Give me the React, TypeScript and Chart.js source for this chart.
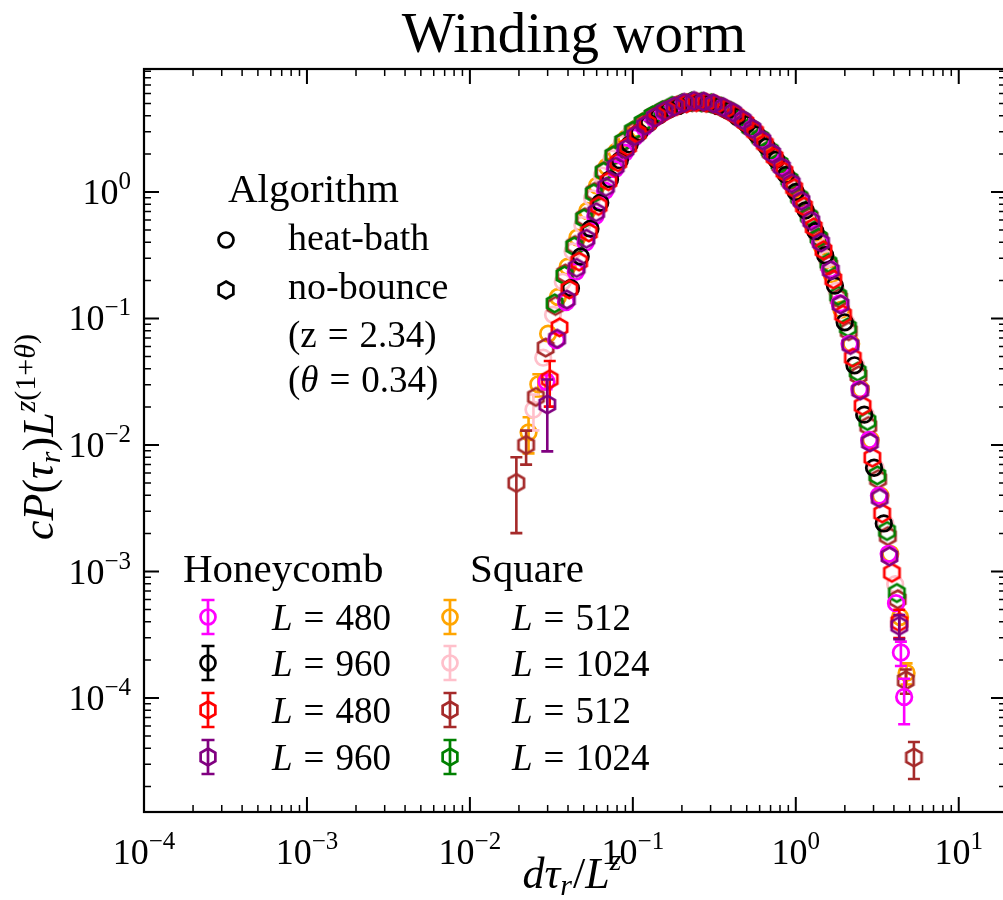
import React, { useEffect, useRef } from 'react';
import { Chart, registerables } from 'chart.js';

Chart.register(...registerables);

const FONT = '"Liberation Serif", "DejaVu Serif", serif';

// Axis ranges (log scales)
const X_MIN = 1e-4;
const X_MAX = 19.5;
const Y_MIN = 1.256e-5;
const Y_MAX = 9.38;

const xMajorTicks = [1e-4, 1e-3, 1e-2, 1e-1, 1, 10];
const xTickExponents = ['\u22124', '\u22123', '\u22122', '\u22121', '0', '1'];
const yMajorTicks = [1e-4, 1e-3, 1e-2, 1e-1, 1];
const yTickExponents = ['\u22124', '\u22123', '\u22122', '\u22121', '0'];

// Honeycomb, heat-bath, L = 480
const magentaX = [0.02951, 0.03388, 0.0389, 0.04467, 0.05129, 0.05888, 0.06761, 0.07762, 0.08913, 0.1023, 0.1175, 0.1349, 0.1549, 0.1778, 0.2042, 0.2344, 0.2692, 0.309, 0.3548, 0.4074, 0.4677, 0.537, 0.6166, 0.7079, 0.8128, 0.9333, 1.072, 1.23, 1.413, 1.622, 1.862, 2.138, 2.455, 2.818, 3.236, 3.715, 4.121, 4.416, 4.624];
const magentaY = [0.0316, 0.0676, 0.1349, 0.2344, 0.3981, 0.6457, 1.023, 1.514, 2.042, 2.692, 3.236, 3.802, 4.266, 4.677, 5.012, 5.188, 5.129, 5.012, 4.677, 4.266, 3.715, 3.162, 2.57, 2.042, 1.585, 1.175, 0.8511, 0.6026, 0.3981, 0.2455, 0.1318, 0.0631, 0.02754, 0.01096, 0.003981, 0.00138, 0.000562, 0.000229, 0.000102];
const magentaErr: [number, number][] = [[0, 0.004], [37, 0.00005], [38, 0.00004]];

// Honeycomb, heat-bath, L = 960
const blackX = [0.04169, 0.04786, 0.05495, 0.0631, 0.07244, 0.08318, 0.0955, 0.1096, 0.1259, 0.1445, 0.166, 0.1905, 0.2188, 0.2512, 0.2884, 0.3311, 0.3802, 0.4365, 0.5012, 0.5754, 0.6607, 0.7586, 0.871, 1.0, 1.148, 1.318, 1.514, 1.738, 1.995, 2.291, 2.63, 3.02, 3.467];
const blackY = [0.1738, 0.309, 0.5129, 0.8222, 1.259, 1.778, 2.371, 2.951, 3.508, 4.027, 4.467, 4.786, 5.07, 5.129, 5.012, 4.786, 4.416, 3.936, 3.428, 2.851, 2.291, 1.799, 1.365, 1.0, 0.7161, 0.4898, 0.3162, 0.182, 0.0933, 0.04266, 0.01738, 0.006607, 0.002399];
const blackErr: [number, number][] = [];

// Honeycomb, no-bounce, L = 480
const redX = [0.0309, 0.03548, 0.04074, 0.04677, 0.0537, 0.06166, 0.07079, 0.08128, 0.09333, 0.1072, 0.123, 0.1413, 0.1622, 0.1862, 0.2138, 0.2455, 0.2818, 0.3236, 0.3715, 0.4266, 0.4898, 0.5623, 0.6457, 0.7413, 0.8511, 0.9772, 1.122, 1.288, 1.479, 1.698, 1.95, 2.239, 2.57, 2.951, 3.388, 3.89, 4.315];
const redY = [0.0331, 0.0851, 0.1698, 0.2818, 0.4786, 0.7762, 1.216, 1.718, 2.291, 2.917, 3.467, 3.981, 4.416, 4.786, 5.012, 5.129, 5.07, 4.898, 4.519, 4.074, 3.548, 2.985, 2.399, 1.884, 1.445, 1.072, 0.7674, 0.5248, 0.3467, 0.2042, 0.1072, 0.049, 0.02042, 0.007943, 0.002884, 0.000977, 0.000398];
const redErr: [number, number][] = [[0, 0.013], [36, 0.0001]];

// Honeycomb, no-bounce, L = 960
const purpleX = [0.02985, 0.03428, 0.03936, 0.04519, 0.05188, 0.05957, 0.06839, 0.07852, 0.09016, 0.1035, 0.1189, 0.1365, 0.1567, 0.1799, 0.2065, 0.2371, 0.2723, 0.3126, 0.3589, 0.4121, 0.4732, 0.5433, 0.6237, 0.7161, 0.8222, 0.9441, 1.084, 1.245, 1.429, 1.641, 1.884, 2.163, 2.483, 2.851, 3.273, 3.758, 4.315];
const purpleY = [0.0209, 0.0692, 0.1413, 0.2512, 0.4266, 0.6918, 1.096, 1.585, 2.163, 2.786, 3.35, 3.89, 4.365, 4.732, 5.07, 5.248, 5.188, 5.012, 4.677, 4.266, 3.715, 3.162, 2.57, 2.018, 1.567, 1.175, 0.8511, 0.5888, 0.3981, 0.2399, 0.1288, 0.0617, 0.02692, 0.01047, 0.003802, 0.001318, 0.000372];
const purpleErr: [number, number][] = [[0, 0.012], [36, 0.00008]];

// Square, heat-bath, L = 512
const orangeX = [0.02291, 0.0263, 0.0302, 0.03467, 0.03981, 0.04571, 0.05248, 0.06026, 0.06918, 0.07943, 0.0912, 0.1047, 0.1202, 0.138, 0.1585, 0.182, 0.2089, 0.2399, 0.2754, 0.3162, 0.3631, 0.4169, 0.4786, 0.5495, 0.631, 0.7244, 0.8318, 0.955, 1.096, 1.259, 1.445, 1.66, 1.905, 2.188, 2.512, 2.884, 3.311, 3.802, 4.365, 4.786];
const orangeY = [0.01259, 0.0302, 0.07586, 0.1479, 0.257, 0.4365, 0.7079, 1.122, 1.585, 2.089, 2.661, 3.162, 3.673, 4.121, 4.519, 4.842, 5.07, 5.152, 5.105, 4.955, 4.571, 4.169, 3.589, 3.055, 2.512, 1.95, 1.514, 1.122, 0.8128, 0.5623, 0.3715, 0.2239, 0.1175, 0.0631, 0.02754, 0.01096, 0.003981, 0.00138, 0.000437, 0.000158];
const orangeErr: [number, number][] = [[0, 0.004], [1, 0.006], [39, 0.00003]];

// Square, heat-bath, L = 1024
const pinkX = [0.02455, 0.02818, 0.03236, 0.03715, 0.04266, 0.04898, 0.05623, 0.06457, 0.07413, 0.08511, 0.09772, 0.1122, 0.1288, 0.1479, 0.1698, 0.195, 0.2239, 0.257, 0.2951, 0.3388, 0.389, 0.4467, 0.5129, 0.5888, 0.6761, 0.7762, 0.8913, 1.023, 1.175, 1.349, 1.549, 1.778, 2.042, 2.344, 2.692, 3.09, 3.548, 4.074];
const pinkY = [0.01905, 0.049, 0.1072, 0.195, 0.3388, 0.5495, 0.8913, 1.349, 1.841, 2.399, 2.951, 3.467, 3.981, 4.365, 4.732, 5.012, 5.188, 5.188, 5.07, 4.786, 4.416, 3.89, 3.35, 2.754, 2.213, 1.738, 1.318, 0.955, 0.6761, 0.4571, 0.2951, 0.166, 0.0933, 0.04266, 0.01738, 0.006607, 0.002399, 0.000794];
const pinkErr: [number, number][] = [[0, 0.006]];

// Square, no-bounce, L = 512
const brownX = [0.01928, 0.02213, 0.02541, 0.02917, 0.0335, 0.03846, 0.04416, 0.0507, 0.05821, 0.06683, 0.07674, 0.0881, 0.1012, 0.1161, 0.1334, 0.1531, 0.1758, 0.2018, 0.2317, 0.2661, 0.3055, 0.3508, 0.4027, 0.4624, 0.5309, 0.6095, 0.6998, 0.8035, 0.9226, 1.059, 1.216, 1.396, 1.603, 1.841, 2.113, 2.427, 2.786, 3.199, 3.673, 4.217, 4.732, 5.309];
const brownY = [0.005012, 0.01, 0.02399, 0.0589, 0.1259, 0.2265, 0.3802, 0.631, 1.0, 1.462, 1.95, 2.512, 3.02, 3.508, 3.981, 4.416, 4.732, 5.012, 5.129, 5.129, 5.012, 4.677, 4.266, 3.758, 3.199, 2.63, 2.065, 1.622, 1.216, 0.8913, 0.631, 0.4266, 0.263, 0.1445, 0.0794, 0.03548, 0.01413, 0.00537, 0.001905, 0.000603, 0.000138, 0.0000339];
const brownErr: [number, number][] = [[0, 0.003], [1, 0.003], [40, 0.00003], [41, 0.000011]];

// Square, no-bounce, L = 1024
const greenX = [0.03311, 0.03802, 0.04365, 0.05012, 0.05754, 0.06607, 0.07586, 0.0871, 0.1, 0.1148, 0.1318, 0.1514, 0.1738, 0.1995, 0.2291, 0.263, 0.302, 0.3467, 0.3981, 0.4571, 0.5248, 0.6026, 0.6918, 0.7943, 0.912, 1.047, 1.202, 1.38, 1.585, 1.82, 2.089, 2.399, 2.754, 3.162, 3.631, 4.169];
const greenY = [0.1318, 0.2188, 0.3715, 0.6166, 0.9772, 1.445, 1.95, 2.512, 3.055, 3.548, 4.027, 4.416, 4.786, 5.012, 5.188, 5.129, 5.012, 4.732, 4.365, 3.802, 3.236, 2.692, 2.138, 1.679, 1.259, 0.912, 0.6457, 0.4365, 0.2754, 0.1514, 0.0851, 0.038, 0.01549, 0.005754, 0.002089, 0.000676];
const greenErr: [number, number][] = [];

const honeycombValues = ['480', '960', '480', '960'];
const squareValues = ['512', '1024', '512', '1024'];
const honeycombColors = ['#ff00ff', '#000000', '#ff0000', '#800080'];
const squareColors = ['#ffa500', '#ffc0cb', '#a52a2a', '#008000'];

type Series = { label: string; color: string; hex: boolean; x: number[]; y: number[]; err: [number, number][] };

// first entry is drawn on top
const seriesList: Series[] = [
  { label: 'Honeycomb no-bounce L = 960', color: '#800080', hex: true, x: purpleX, y: purpleY, err: purpleErr },
  { label: 'Honeycomb no-bounce L = 480', color: '#ff0000', hex: true, x: redX, y: redY, err: redErr },
  { label: 'Honeycomb heat-bath L = 960', color: '#000000', hex: false, x: blackX, y: blackY, err: blackErr },
  { label: 'Honeycomb heat-bath L = 480', color: '#ff00ff', hex: false, x: magentaX, y: magentaY, err: magentaErr },
  { label: 'Square no-bounce L = 1024', color: '#008000', hex: true, x: greenX, y: greenY, err: greenErr },
  { label: 'Square no-bounce L = 512', color: '#a52a2a', hex: true, x: brownX, y: brownY, err: brownErr },
  { label: 'Square heat-bath L = 1024', color: '#ffc0cb', hex: false, x: pinkX, y: pinkY, err: pinkErr },
  { label: 'Square heat-bath L = 512', color: '#ffa500', hex: false, x: orangeX, y: orangeY, err: orangeErr },
];

type Run = { t: string; it?: boolean; s: number; dy?: number; pad?: number };
const fontOf = (r: Run) => `${r.it ? 'italic ' : ''}${r.s}px ${FONT}`;

function runsWidth(ctx: CanvasRenderingContext2D, runs: Run[]) {
  let w = 0;
  for (const r of runs) {
    ctx.font = fontOf(r);
    w += (r.pad || 0) + ctx.measureText(r.t).width;
  }
  return w;
}

function drawRuns(ctx: CanvasRenderingContext2D, runs: Run[], x: number, y: number, align: 'left' | 'center' | 'right') {
  const w = runsWidth(ctx, runs);
  let cx = align === 'left' ? x : align === 'center' ? x - w / 2 : x - w;
  ctx.textAlign = 'left';
  ctx.textBaseline = 'alphabetic';
  for (const r of runs) {
    cx += r.pad || 0;
    ctx.font = fontOf(r);
    ctx.fillText(r.t, cx, y + (r.dy || 0));
    cx += ctx.measureText(r.t).width;
  }
}

function hexPath(ctx: CanvasRenderingContext2D, cx: number, cy: number, r: number) {
  ctx.beginPath();
  for (let k = 0; k < 6; k++) {
    const a = -Math.PI / 2 + (k * Math.PI) / 3;
    const px = cx + r * Math.cos(a);
    const py = cy + r * Math.sin(a);
    if (k === 0) ctx.moveTo(px, py);
    else ctx.lineTo(px, py);
  }
  ctx.closePath();
}

function hexImage(color: string, r: number, lw: number) {
  const c = document.createElement('canvas');
  const size = Math.ceil(2 * (r + lw)) + 2;
  c.width = size;
  c.height = size;
  const ctx = c.getContext('2d')!;
  ctx.strokeStyle = color;
  ctx.lineWidth = lw;
  hexPath(ctx, size / 2, size / 2, r);
  ctx.stroke();
  return c;
}

function minorTicks(lo: number, hi: number) {
  const out: number[] = [];
  for (let e = Math.floor(Math.log10(lo)); e <= Math.ceil(Math.log10(hi)); e++) {
    for (let m = 2; m <= 9; m++) {
      const v = m * Math.pow(10, e);
      if (v > lo && v < hi) out.push(v);
    }
  }
  return out;
}

function drawLegendMarker(ctx: CanvasRenderingContext2D, x: number, y: number, color: string, hex: boolean, errbar: boolean) {
  ctx.save();
  ctx.strokeStyle = color;
  ctx.lineWidth = 2.7;
  if (errbar) {
    ctx.beginPath();
    ctx.moveTo(x, y - 17);
    ctx.lineTo(x, y + 17);
    ctx.moveTo(x - 6.5, y - 17);
    ctx.lineTo(x + 6.5, y - 17);
    ctx.moveTo(x - 6.5, y + 17);
    ctx.lineTo(x + 6.5, y + 17);
    ctx.stroke();
  }
  if (hex) hexPath(ctx, x, y, 8.5);
  else {
    ctx.beginPath();
    ctx.arc(x, y, 7.5, 0, Math.PI * 2);
  }
  ctx.stroke();
  ctx.restore();
}

const errorBarPlugin = {
  id: 'errorBars',
  afterDatasetDraw(chart: any, args: any) {
    const s = seriesList[args.index];
    if (!s || !s.err.length) return;
    const ctx: CanvasRenderingContext2D = chart.ctx;
    const ys = chart.scales.y;
    ctx.save();
    ctx.strokeStyle = s.color;
    ctx.lineWidth = 2.6;
    for (const [i, e] of s.err) {
      const pt = args.meta.data[i];
      if (!pt) continue;
      const x = pt.x;
      const top = ys.getPixelForValue(s.y[i] + e);
      const bot = ys.getPixelForValue(Math.max(s.y[i] - e, Y_MIN));
      ctx.beginPath();
      ctx.moveTo(x, top);
      ctx.lineTo(x, bot);
      ctx.moveTo(x - 6, top);
      ctx.lineTo(x + 6, top);
      ctx.moveTo(x - 6, bot);
      ctx.lineTo(x + 6, bot);
      ctx.stroke();
    }
    ctx.restore();
  },
};

const framePlugin = {
  id: 'frame',
  afterDraw(chart: any) {
    const ctx: CanvasRenderingContext2D = chart.ctx;
    const { left, right, top, bottom } = chart.chartArea;
    const xs = chart.scales.x;
    const ys = chart.scales.y;
    ctx.save();
    ctx.fillStyle = '#000';
    ctx.strokeStyle = '#000';

    // spines
    ctx.lineWidth = 2.2;
    ctx.strokeRect(left, top, right - left, bottom - top);

    const MAJ = 15;
    const MIN = 7;
    const drawX = (v: number, len: number, lw: number) => {
      const px = xs.getPixelForValue(v);
      ctx.lineWidth = lw;
      ctx.beginPath();
      ctx.moveTo(px, bottom);
      ctx.lineTo(px, bottom - len);
      ctx.moveTo(px, top);
      ctx.lineTo(px, top + len);
      ctx.stroke();
    };
    const drawY = (v: number, len: number, lw: number) => {
      const py = ys.getPixelForValue(v);
      ctx.lineWidth = lw;
      ctx.beginPath();
      ctx.moveTo(left, py);
      ctx.lineTo(left + len, py);
      ctx.moveTo(right, py);
      ctx.lineTo(right - len, py);
      ctx.stroke();
    };
    xMajorTicks.forEach((v) => drawX(v, MAJ, 2));
    minorTicks(X_MIN, X_MAX).forEach((v) => drawX(v, MIN, 1.5));
    yMajorTicks.forEach((v) => drawY(v, MAJ, 2));
    minorTicks(Y_MIN, Y_MAX).forEach((v) => drawY(v, MIN, 1.5));

    // tick labels
    xMajorTicks.forEach((v, i) => {
      const px = xs.getPixelForValue(v);
      drawRuns(ctx, [{ t: '10', s: 36 }, { t: xTickExponents[i], s: 25, dy: -15 }], px, 864, 'center');
    });
    yMajorTicks.forEach((v, i) => {
      const py = ys.getPixelForValue(v);
      drawRuns(ctx, [{ t: '10', s: 36 }, { t: yTickExponents[i], s: 25, dy: -15 }], 131, py + 12, 'right');
    });

    // title
    drawRuns(ctx, [{ t: 'Winding worm', s: 57 }], 574, 52, 'center');

    // x axis label
    drawRuns(
      ctx,
      [
        { t: 'd', it: true, s: 44 },
        { t: '\u03c4', it: true, s: 44 },
        { t: 'r', it: true, s: 30, dy: 7 },
        { t: '/', s: 44, pad: 1 },
        { t: 'L', it: true, s: 44 },
        { t: 'z', it: true, s: 30, dy: -18 },
      ],
      572,
      888,
      'center'
    );

    // y axis label (rotated)
    ctx.save();
    ctx.translate(53, 437);
    ctx.rotate(-Math.PI / 2);
    drawRuns(
      ctx,
      [
        { t: 'c', it: true, s: 44 },
        { t: 'P', it: true, s: 44 },
        { t: '(', s: 44 },
        { t: '\u03c4', it: true, s: 44 },
        { t: 'r', it: true, s: 30, dy: 7 },
        { t: ')', s: 44 },
        { t: 'L', it: true, s: 44 },
        { t: 'z', it: true, s: 30, dy: -18 },
        { t: '(1+', s: 30, dy: -18 },
        { t: '\u03b8', it: true, s: 30, dy: -18 },
        { t: ')', s: 30, dy: -18 },
      ],
      0,
      0,
      'center'
    );
    ctx.restore();

    // Algorithm legend
    drawRuns(ctx, [{ t: 'Algorithm', s: 41 }], 228, 202, 'left');
    drawLegendMarker(ctx, 226, 240, '#000', false, false);
    drawLegendMarker(ctx, 226, 290, '#000', true, false);
    drawRuns(ctx, [{ t: 'heat-bath', s: 38 }], 288, 250, 'left');
    drawRuns(ctx, [{ t: 'no-bounce', s: 38 }], 288, 299, 'left');
    drawRuns(ctx, [{ t: '(z', s: 37 }, { t: '=', s: 37, pad: 11 }, { t: '2.34)', s: 37, pad: 11 }], 288, 347, 'left');
    drawRuns(
      ctx,
      [{ t: '(', s: 37 }, { t: '\u03b8', it: true, s: 37 }, { t: '=', s: 37, pad: 11 }, { t: '0.34)', s: 37, pad: 11 }],
      288,
      392,
      'left'
    );

    // Lattice / size legend
    drawRuns(ctx, [{ t: 'Honeycomb', s: 41 }], 183, 582, 'left');
    drawRuns(ctx, [{ t: 'Square', s: 41 }], 470, 582, 'left');
    const rows = [617, 663, 710, 757];
    rows.forEach((ry, i) => {
      drawLegendMarker(ctx, 208, ry, honeycombColors[i], i >= 2, true);
      drawLegendMarker(ctx, 450, ry, squareColors[i], i >= 2, true);
      drawRuns(ctx, [{ t: 'L', it: true, s: 37 }, { t: '=', s: 37, pad: 11 }, { t: honeycombValues[i], s: 37, pad: 11 }], 272, ry + 13, 'left');
      drawRuns(ctx, [{ t: 'L', it: true, s: 37 }, { t: '=', s: 37, pad: 11 }, { t: squareValues[i], s: 37, pad: 11 }], 512, ry + 13, 'left');
    });
    ctx.restore();
  },
};

export default function App() {
  const canvasRef = useRef<HTMLCanvasElement | null>(null);

  useEffect(() => {
    document.body.style.margin = '0';
    document.body.style.overflow = 'hidden';
    const canvas = canvasRef.current;
    if (!canvas) return;
    const datasets = seriesList.map((s) => ({
      label: s.label,
      data: s.x.map((x, i) => ({ x, y: s.y[i] })),
      pointStyle: s.hex ? (hexImage(s.color, 8.8, 2.7) as any) : 'circle',
      pointRadius: 7.8,
      pointHoverRadius: 7.8,
      borderColor: s.color,
      backgroundColor: 'rgba(0,0,0,0)',
      borderWidth: 2.7,
      showLine: false,
    }));
    const chart = new Chart(canvas, {
      type: 'scatter',
      data: { datasets },
      options: {
        animation: false,
        responsive: false,
        devicePixelRatio: 1,
        layout: { autoPadding: false, padding: { left: 144, top: 69, right: 0, bottom: 88 } },
        scales: {
          x: { type: 'logarithmic', min: X_MIN, max: X_MAX, display: false },
          y: { type: 'logarithmic', min: Y_MIN, max: Y_MAX, display: false },
        },
        plugins: {
          legend: { display: false },
          tooltip: { enabled: false },
        },
      },
      plugins: [errorBarPlugin, framePlugin],
    } as any);
    return () => chart.destroy();
  }, []);

  return (
    <div style={{ width: 1003, height: 900, overflow: 'hidden', position: 'relative', background: '#fff' }}>
      <canvas ref={canvasRef} width={1006} height={900} style={{ display: 'block' }} />
    </div>
  );
}
